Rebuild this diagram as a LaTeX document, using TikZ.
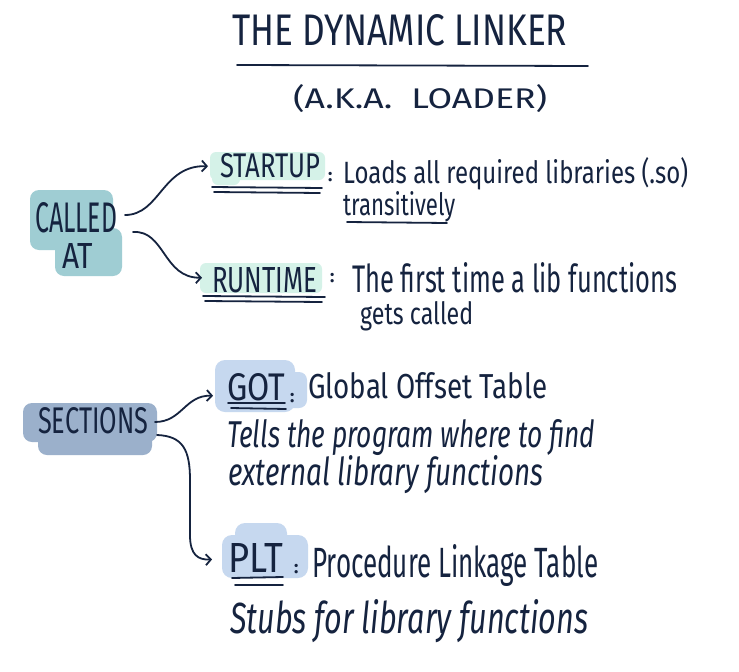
\documentclass[tikz,border=0pt]{standalone}
\usepackage{fontspec}
\usepackage{graphicx}
\setmainfont{Fira Sans}
\usetikzlibrary{arrows.meta}
\definecolor{ink}{HTML}{15233F}
\definecolor{tealblob}{HTML}{9FCDD3}
\definecolor{mint}{HTML}{D5F2E8}
\definecolor{secblob}{HTML}{9BB0CB}
\definecolor{lblue}{HTML}{C6D8EF}
\newcommand{\fitbox}[3]{\resizebox{#1pt}{#2pt}{#3}}
\tikzset{
  every node/.style={text=ink, inner sep=0pt, anchor=base west},
  capstxt/.style={font=\fontsize{20}{22}\selectfont},
  bodytxt/.style={font=\fontsize{20}{22}\selectfont},
  handtxt/.style={font=\itshape\fontsize{20}{22}\selectfont},
  colontxt/.style={font=\bfseries\fontsize{18}{20}\selectfont},
  inkline/.style={draw=ink, line width=1.8pt, line cap=round},
  arr/.style={inkline, -{Straight Barb[length=5pt,width=11pt,line width=1.8pt]}},
}
\begin{document}
\begin{tikzpicture}[x=1pt,y=-1pt]
\useasboundingbox[fill=white] (0,0) rectangle (739,672);

% title
\node[capstxt] (title) at (232,45) {\fitbox{335}{31}{THE DYNAMIC LINKER}};
\draw[inkline] (237,65) -- (588,66);
\node[capstxt] (aka) at (293,108) {\fitbox{254}{24}{(A.K.A.\ \ LOADER)}};

% blobs
\fill[tealblob, rounded corners=9pt] (30,190) rectangle (95,250);
\fill[tealblob, rounded corners=9pt] (45,190) rectangle (113,245);
\fill[tealblob, rounded corners=9pt] (55,228) rectangle (122,276);
\fill[secblob, rounded corners=9pt] (23,403) rectangle (157,442);
\fill[secblob, rounded corners=9pt] (38,418) rectangle (152,455);
\fill[mint, rounded corners=6pt] (210,152) rectangle (325,180);
\fill[mint, rounded corners=6pt] (212,165) rectangle (240,185);
\fill[mint, rounded corners=6pt] (200,263) rectangle (322,293);
\fill[lblue, rounded corners=10pt] (215,360) rectangle (295,412);
\fill[lblue, rounded corners=8pt] (268,372) rectangle (307,408);
\fill[lblue, rounded corners=10pt] (235,523) rectangle (287,560);
\fill[lblue, rounded corners=10pt] (222,535) rectangle (308,578);

% left nodes
\node[capstxt] (called) at (35,232) {\fitbox{82}{30}{CALLED}};
\node[capstxt] (at) at (62,268) {\fitbox{31}{25}{AT}};
\node[capstxt] (sections) at (38,433) {\fitbox{110}{26}{SECTIONS}};

% startup
\node[capstxt] (startup) at (220,177) {\fitbox{100}{24}{STARTUP}};
\draw[inkline] (212,187) -- (322,188);
\draw[inkline] (214,192) -- (320,193);
\node[colontxt] (c1) at (328,181) {:};
\node[bodytxt] (startd) at (343,183) {\fitbox{345}{26}{Loads all required libraries (.so)}};
\node[bodytxt] (trans) at (343,215) {\fitbox{112}{24}{transitively}};
\draw[inkline] (347,222) -- (447,223);

% runtime
\node[capstxt] (runtime) at (212,292) {\fitbox{105}{25}{RUNTIME}};
\draw[inkline] (203,296) -- (325,297);
\draw[inkline] (205,301) -- (322,302);
\node[colontxt] (c2) at (330,282) {:};
\node[bodytxt] (rund) at (352,292) {\fitbox{325}{30}{The first time a lib functions}};
\node[bodytxt] (rund2) at (360,324) {\fitbox{113}{23}{gets called}};

% GOT
\node[capstxt] (got) at (227,400) {\fitbox{58}{27}{GOT}};
\draw[inkline] (228,403) -- (285,403);
\draw[inkline] (231,408) -- (286,409);
\node[colontxt] (c3) at (290,402) {:};
\node[bodytxt] (gotd) at (308,398) {\fitbox{239}{26}{Global Offset Table}};
\node[handtxt] (got2) at (227,447) {\fitbox{368}{28}{Tells the program where to find}};
\node[handtxt] (got3) at (228,485) {\fitbox{315}{30}{external library functions}};

% PLT
\node[capstxt] (plt) at (228,572) {\fitbox{55}{29}{PLT}};
\draw[inkline] (232,578) -- (283,577);
\draw[inkline] (235,585) -- (283,585);
\node[colontxt] (c4) at (294,573) {:};
\node[bodytxt] (pltd) at (312,577) {\fitbox{286}{33}{Procedure Linkage Table}};
\node[handtxt] (plt2) at (230,633) {\fitbox{358}{34}{Stubs for library functions}};

% connectors
\coordinate (a1) at (125,215);
\coordinate (a2) at (133,232);
\coordinate (s1) at (155,422);
\coordinate (s2) at (157,435);
\draw[arr] (a1) .. controls (160,215) and (162,165) .. ([xshift=-12pt,yshift=-1pt]startup.west);
\draw[arr] (a2) .. controls (165,230) and (163,278) .. ([xshift=-10pt,yshift=2pt]runtime.west);
\draw[arr] (s1) .. controls (182,422) and (185,395) .. ([xshift=-14pt,yshift=-9pt]got.west);
\draw[arr] (s2) .. controls (183,436) and (190,450) .. (190,480) -- (190,535)
  .. controls (190,555) and (198,560) .. ([xshift=-16pt,yshift=-2pt]plt.west);
\end{tikzpicture}
\end{document}
